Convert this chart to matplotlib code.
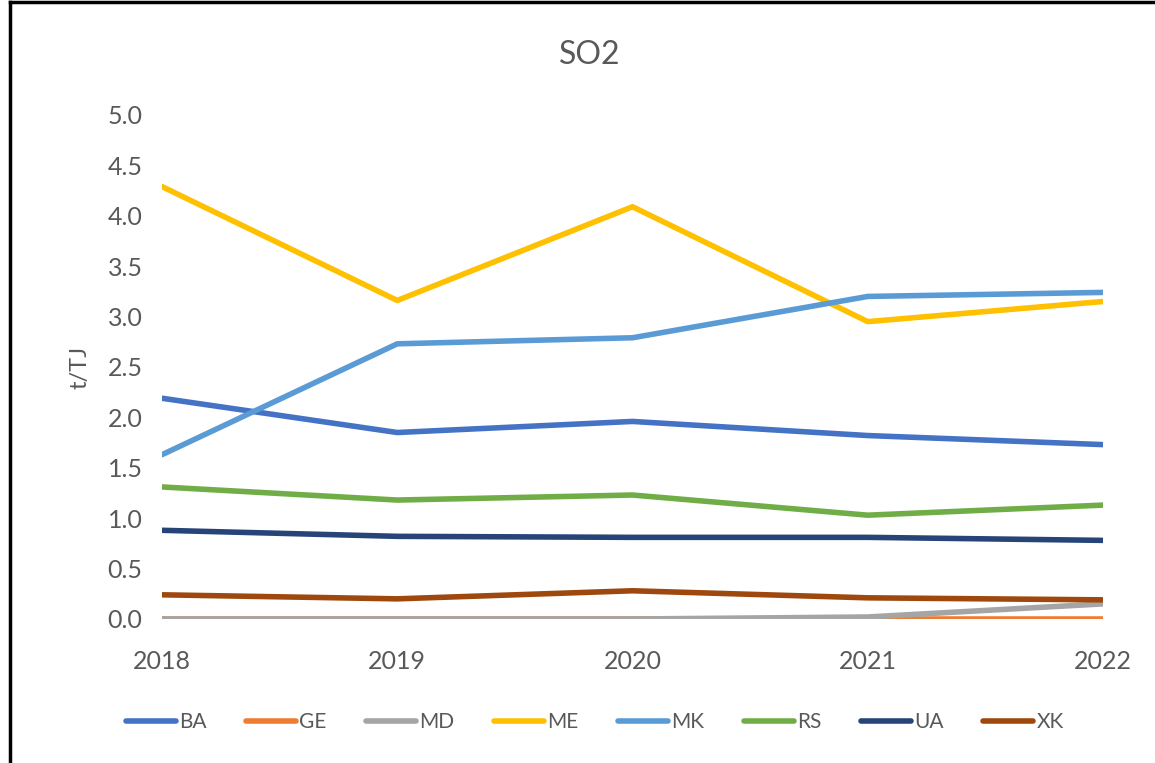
import matplotlib.pyplot as plt
from matplotlib.lines import Line2D

years = [2018, 2019, 2020, 2021, 2022]
countries = ["BA", "GE", "MD", "ME", "MK", "RS", "UA", "XK"]
ba = [2.19, 1.85, 1.96, 1.82, 1.73]
ge = [0.0, 0.0, 0.0, 0.0, 0.0]
md = [0.0, 0.0, 0.0, 0.02, 0.15]
me = [4.29, 3.16, 4.09, 2.95, 3.15]
mk = [1.63, 2.73, 2.79, 3.20, 3.24]
rs = [1.31, 1.18, 1.23, 1.03, 1.13]
ua = [0.88, 0.82, 0.81, 0.81, 0.78]
xk = [0.24, 0.20, 0.28, 0.21, 0.19]
series = [ba, ge, md, me, mk, rs, ua, xk]
colors = ['#4472c4', '#ed7d31', '#a5a5a5', '#ffc000', '#5b9bd5', '#70ad47', '#264478', '#9e480e']

plt.rcParams['font.family'] = ['Lato', 'DejaVu Sans']
txt = '#595959'

fig = plt.figure(figsize=(11.55, 7.63), dpi=100)
ax = fig.add_axes([162 / 1155, 1 - 619 / 763, (1103 - 162) / 1155, (619 - 115) / 763])

for vals, c, name in zip(series, colors, countries):
    ax.plot(years, vals, color=c, lw=4, label=name, solid_capstyle='round')

ax.set_xlim(2018, 2022)
ax.set_ylim(0, 5)
ax.set_xticks(years)
ax.set_yticks([i / 2 for i in range(11)])
ax.set_yticklabels(["%.1f" % (i / 2) for i in range(11)])
for s in ax.spines.values():
    s.set_visible(False)
ax.tick_params(length=0, labelsize=18, colors=txt)
ax.tick_params(axis='x', pad=22)
ax.tick_params(axis='y', pad=14)
ax.set_ylabel("t/TJ", fontsize=17, color=txt, labelpad=12)
fig.text(590 / 1155, 1 - 55 / 763, "SO2", ha='center', va='center', fontsize=23, color=txt)

ax.legend(loc='center', bbox_to_anchor=(0.46, -0.205), ncol=8, frameon=False,
          fontsize=15, labelcolor=txt, handlelength=2.4, columnspacing=1.9, handletextpad=0.15)

fig.add_artist(Line2D([10 / 1155, 10 / 1155], [0, 1 - 2 / 763], color='black', lw=2.5, transform=fig.transFigure))
fig.add_artist(Line2D([10 / 1155, 1], [1 - 2 / 763, 1 - 2 / 763], color='black', lw=2.5, transform=fig.transFigure))

fig.savefig("out.png", dpi=100)
